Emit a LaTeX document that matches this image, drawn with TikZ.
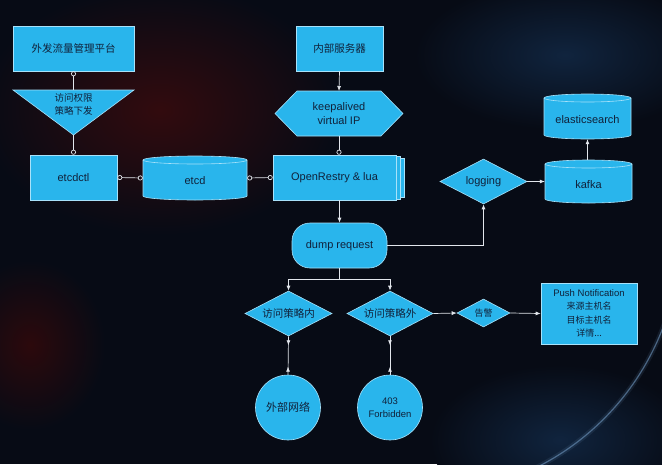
\documentclass[tikz,border=0pt]{standalone}
\usepackage{fontspec}
\setmainfont{Liberation Sans}
\newfontfamily\cjk{Noto Sans CJK SC}
\usetikzlibrary{arrows.meta,shapes.geometric,decorations.markings,calc}
\definecolor{bgc}{HTML}{070B15}
\definecolor{boxfill}{HTML}{29B5EC}
\definecolor{boxline}{HTML}{A8E2FA}
\definecolor{txtc}{HTML}{10213A}
\definecolor{wire}{HTML}{E2E6EC}
\definecolor{redglow}{RGB}{50,11,14}
\definecolor{redglowb}{RGB}{44,9,12}
\definecolor{blueglow}{RGB}{16,36,62}
\definecolor{planet}{RGB}{110,150,190}
\tikzset{odot/.tip={Circle[open,length=5pt,width=5pt]}}
\newcommand\dbcyl[6]{%
  \pgfmathsetmacro\hw{#4/2}\pgfmathsetmacro\hh{#5/2}%
  \path[shp] (#2-\hw,-#3+\hh-4) -- (#2-\hw,-#3-\hh+4)
     arc[start angle=180,end angle=360,x radius=\hw pt,y radius=4pt]
     -- (#2+\hw,-#3+\hh-4)
     arc[start angle=0,end angle=180,x radius=\hw pt,y radius=4pt] -- cycle;
  \draw[draw=boxline,line width=0.6pt] (#2-\hw,-#3+\hh-4)
     arc[start angle=180,end angle=360,x radius=\hw pt,y radius=4pt];
  \node[inner sep=0pt,minimum width=#4pt,minimum height=#5pt] (#1) at (#2,-#3) {};
  \node[txt] at (#2,-#3-3) {#6};
}
\begin{document}
\begin{tikzpicture}[x=1pt,y=1pt,
  shp/.style={fill=boxfill,draw=boxline,line width=0.6pt},
  txt/.style={text=txtc,font=\fontsize{11}{14}\selectfont,align=center,inner sep=0pt},
  ctxt/.style={text=txtc,font=\cjk\fontsize{10.5}{13}\selectfont,align=center,inner sep=0pt},
  arr/.style={draw=wire,line width=0.7pt,-{Latex[length=5pt,width=4pt]}},
  wirel/.style={draw=wire,line width=0.7pt},
  twotip/.style={draw=wire,line width=0.7pt,postaction={decorate},
    decoration={markings,
      mark=at position 9pt with {\arrow{Latex[length=5pt,width=4pt]}},
      mark=at position -8pt with {\arrowreversed{Latex[length=5pt,width=4pt]}}}}
]
% background
\useasboundingbox (0,0) rectangle (662,-464);
\fill[bgc] (0,0) rectangle (662,-464);
\begin{scope}
\clip (0,0) rectangle (662,-464);
\shade[inner color=redglow,outer color=bgc] (160,-110) ellipse (180pt and 125pt);
\shade[inner color=redglowb,outer color=bgc] (30,-345) ellipse (75pt and 85pt);
\shade[inner color=blueglow,outer color=bgc] (565,-55) ellipse (150pt and 75pt);
\shade[inner color=blueglow,outer color=bgc] (560,-440) ellipse (130pt and 75pt);
\draw[planet,line width=5pt,opacity=0.12] (420,-235) ++(-66:260pt) arc[start angle=-66,end angle=-5,radius=260pt];
\draw[planet,line width=1.2pt,opacity=0.6] (420,-235) ++(-66:260pt) arc[start angle=-66,end angle=-5,radius=260pt];
\end{scope}

% left column
\node[shp,ctxt,minimum width=121pt,minimum height=45pt] (plat) at (73.5,-48.5) {外发流量管理平台};
\draw[shp] (13,-90) -- (134,-90) -- (73.5,-135) -- cycle;
\coordinate (tritop) at (73.5,-90);
\coordinate (triapex) at (73.5,-135);
\node[ctxt,font=\cjk\fontsize{9.5}{12.7}\selectfont] (tritxt) at (73.5,-104.5) {访问权限\\策略下发};
\node[shp,txt,minimum width=87pt,minimum height=45pt] (etcdctl) at (73.5,-177.5) {etcdctl};
\dbcyl{etcd}{195}{178}{104}{44}{etcd}

% middle column
\node[shp,ctxt,minimum width=87pt,minimum height=45pt] (srv) at (339.5,-48.5) {内部服务器};
\draw[shp] (275,-113.5) -- (297,-91) -- (381,-91) -- (403,-113.5) -- (381,-136) -- (297,-136) -- cycle;
\node[txt] (hex) at (339,-113.5) {keepalived\\virtual IP};
\coordinate (hextop) at (339,-91);
\coordinate (hexbot) at (339,-136);
\draw[shp] (282,-158) rectangle (404,-197.5);
\draw[shp] (278,-156.5) rectangle (400,-199);
\node[shp,txt,minimum width=123pt,minimum height=45pt] (or) at (334.5,-177.5) {OpenRestry \& lua};
\node[shp,txt,rounded corners=18pt,minimum width=95pt,minimum height=45pt] (dump) at (339.5,-245.5) {dump request};

% right column
\node[shp,diamond,txt,minimum width=87pt,minimum height=45pt,shape aspect=1.93] (logging) at (483.5,-181.5) {logging};
\dbcyl{kafka}{588.5}{181.5}{87}{43}{kafka}
\dbcyl{elastic}{587.5}{116.5}{87}{45}{elasticsearch}

% bottom
\node[shp,diamond,ctxt,minimum width=87pt,minimum height=45pt,shape aspect=1.93] (d1) at (288.5,-313.5) {访问策略内};
\node[shp,diamond,ctxt,minimum width=86pt,minimum height=45pt,shape aspect=1.91] (d2) at (390,-313.5) {访问策略外};
\node[shp,diamond,ctxt,font=\cjk\fontsize{9}{10}\selectfont,minimum width=53pt,minimum height=28pt,shape aspect=1.9] (alarm) at (483.5,-313) {告警};
\node[shp,txt,font=\fontsize{9.5}{13.3}\selectfont,minimum width=96pt,minimum height=61pt] (push) at (589,-313.5)
  {Push Notification\\{\cjk\fontsize{9}{13.3}\selectfont 来源主机名}\\{\cjk\fontsize{9}{13.3}\selectfont 目标主机名}\\{\cjk\fontsize{9}{13.3}\selectfont 详情...}};
\node[shp,circle,ctxt,font=\cjk\fontsize{11}{13}\selectfont,minimum size=65pt] (c1) at (288,-407.5) {外部网络};
\node[shp,circle,txt,font=\fontsize{9.5}{13}\selectfont,minimum size=65pt] (c2) at (390,-407.5) {403\\Forbidden};

% connectors
\draw[wirel,{odot}-] (plat.south) -- (tritop);
\draw[wirel,-{odot}] (triapex) -- (etcdctl.north);
\draw[wirel,{odot}-{odot}] (etcdctl.east) -- (etcd.west);
\draw[wirel,{odot}-{odot}] (etcd.east) -- (or.west);
\draw[arr] (srv.south) -- (hextop);
\draw[wirel,-{odot}] (hexbot) -- (hexbot |- or.north);
\draw[arr] (or.south -| dump.north) -- (dump.north);
\draw[arr] (dump.east) -| (logging.south);
\draw[arr] (logging.east) -- (kafka.west);
\draw[arr] (kafka.north -| elastic.south) -- (elastic.south);
\coordinate (br) at (339.5,-279);
\draw[arr] (dump.south) -- (br) -| (d1.north);
\draw[arr] (br) -| (d2.north);
\draw[arr] (d2.east) -- (alarm.west);
\draw[arr] (alarm.east) -- (push.west);
\path[twotip] (d1.south) -- (c1.north);
\path[twotip] (d2.south) -- (c2.north);
\end{tikzpicture}
\end{document}
